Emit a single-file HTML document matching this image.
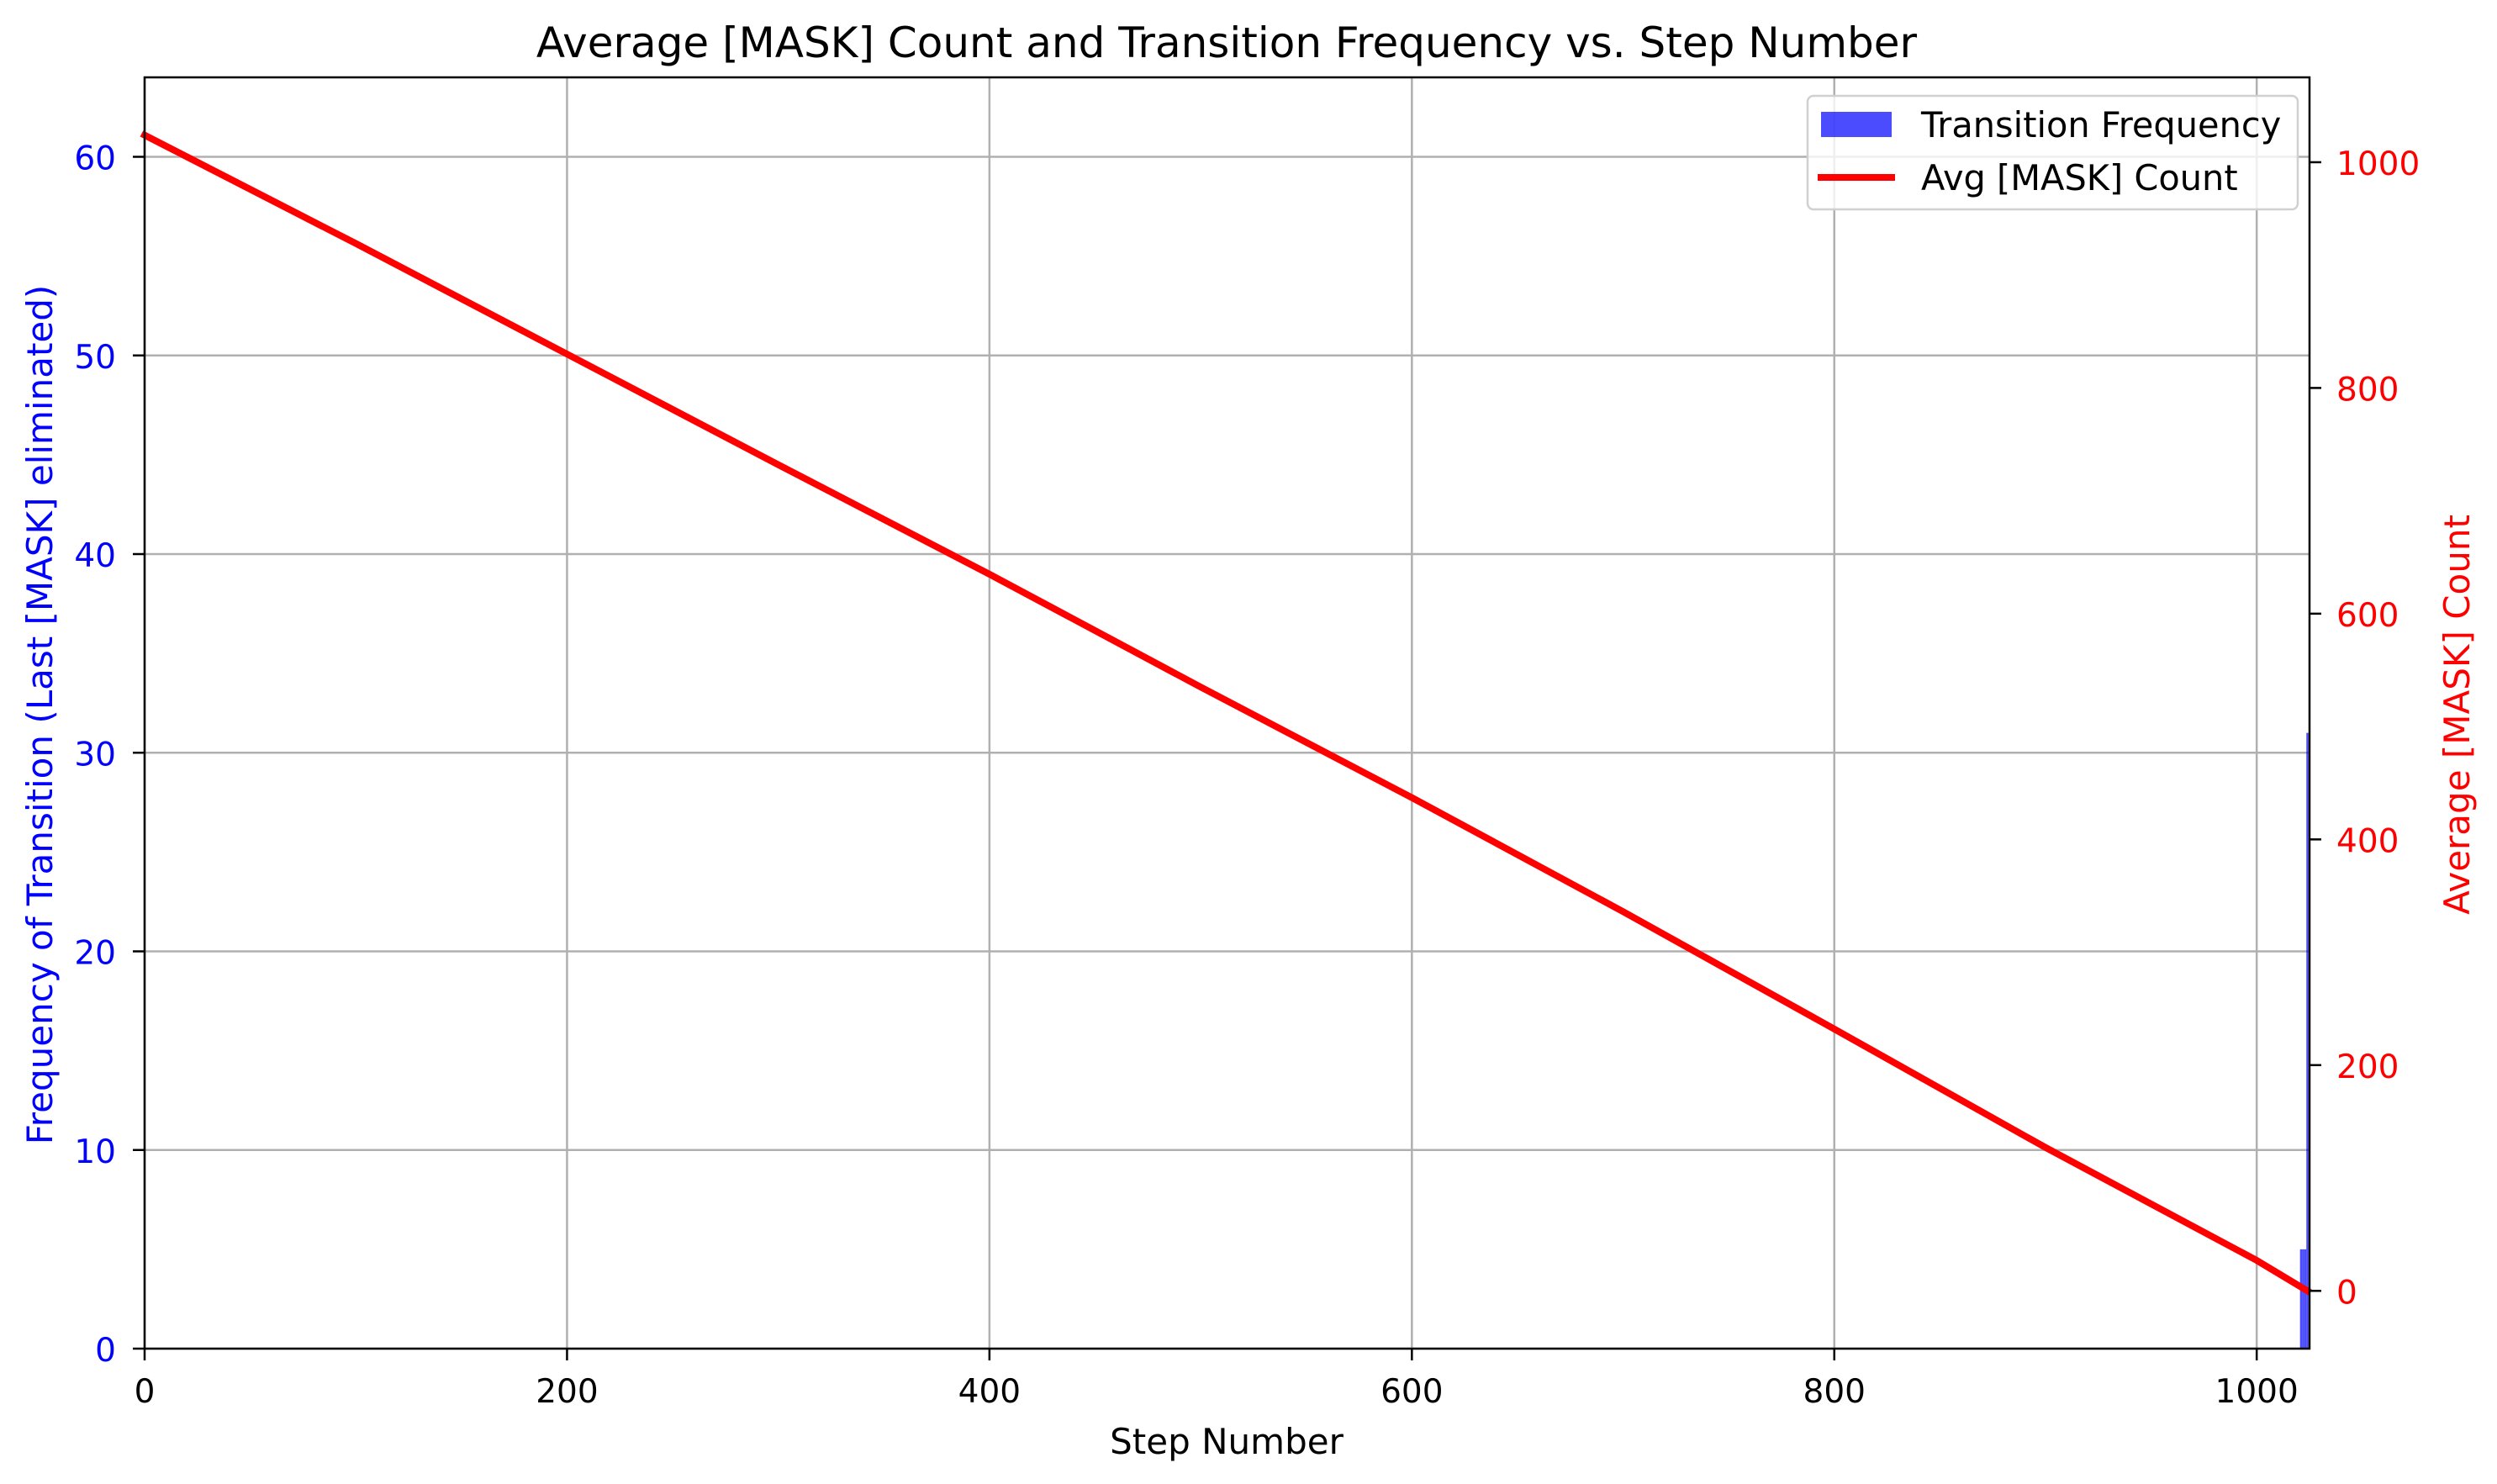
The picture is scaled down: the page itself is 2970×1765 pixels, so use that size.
<!DOCTYPE html>
<html><head><meta charset="utf-8"><style>
html,body{margin:0;padding:0;background:#fff;}
svg{display:block;font-family:"DejaVu Sans","Liberation Sans",sans-serif;}
</style></head><body>
<svg id="chart" width="2970" height="1765" viewBox="0 0 2970 1765">
<rect width="2970" height="1765" fill="#fff"/>
<g id="grid"></g>
<g id="bars"></g>
<g id="line"></g>
<g id="axes"></g>
<text x="1459" y="68" font-size="50" text-anchor="middle">Average [MASK] Count and Transition Frequency vs. Step Number</text>
<text x="1459" y="1729" font-size="42" text-anchor="middle">Step Number</text>
<text transform="translate(62,850) rotate(-90)" font-size="42" fill="#0000ff" text-anchor="middle">Frequency of Transition (Last [MASK] eliminated)</text>
<text transform="translate(2937,850) rotate(-90)" font-size="42" fill="#ff0000" text-anchor="middle">Average [MASK] Count</text>
<g>
<rect x="2150" y="114" width="583" height="135" rx="7" fill="#fff" fill-opacity="0.8" stroke="#d0d0d0" stroke-width="2.5"/>
<rect x="2166" y="133" width="84" height="30" fill="#0000ff" fill-opacity="0.7"/>
<text x="2285" y="163" font-size="41.5">Transition Frequency</text>
<line x1="2162" y1="211" x2="2254" y2="211" stroke="#ff0000" stroke-width="8"/>
<text x="2285" y="226" font-size="41.5">Avg [MASK] Count</text>
</g>
</svg>
<script>
const barSteps = [1021, 1022, 1023, 1024];
const barFreq = [5, 5, 5, 31];
const lineSteps = [0, 100, 200, 300, 400, 500, 600, 700, 800, 900, 1000, 1024];
const lineCounts = [1024, 928, 830, 732, 635, 535, 437, 336, 232, 127, 27, 0];
const xTicks = [0, 200, 400, 600, 800, 1000];
const yLeftTicks = [0, 10, 20, 30, 40, 50, 60];
const yRightTicks = [0, 200, 400, 600, 800, 1000];

const L=172,R=2747,T=92,B=1604;
const xMin=0,xMax=1025,yLMin=0,yLMax=64,yRMin=-51.2,yRMax=1075.2;
const sx=v=>L+(v-xMin)/(xMax-xMin)*(R-L);
const syL=v=>B-(v-yLMin)/(yLMax-yLMin)*(B-T);
const syR=v=>B-(v-yRMin)/(yRMax-yRMin)*(B-T);
const NS='http://www.w3.org/2000/svg';
function mk(tag,attrs,parent,txt){const e=document.createElementNS(NS,tag);for(const k in attrs)e.setAttribute(k,attrs[k]);if(txt!==undefined)e.textContent=txt;parent.appendChild(e);return e;}
const grid=document.getElementById('grid'),bars=document.getElementById('bars'),line=document.getElementById('line'),axes=document.getElementById('axes');

xTicks.forEach(v=>{
  const g=mk('line',{x1:sx(v),x2:sx(v),y1:T,y2:B,stroke:'#b0b0b0','stroke-width':2.5},grid);
  
  
  const t=mk('line',{x1:sx(v),x2:sx(v),y1:B,y2:B+14,stroke:'#000','stroke-width':2.5},axes);
  
  
  const l=mk('text',{x:sx(v),y:B+64,'font-size':39,'text-anchor':'middle'},axes,String(v));
  
  
});
yLeftTicks.forEach(v=>{
  const g=mk('line',{x1:L,x2:R,y1:syL(v),y2:syL(v),stroke:'#b0b0b0','stroke-width':2.5},grid);
  
  
  const t=mk('line',{x1:L-14,x2:L,y1:syL(v),y2:syL(v),stroke:'#000','stroke-width':2.5},axes);
  
  
  const l=mk('text',{x:L-34,y:syL(v)+15,'font-size':39,'text-anchor':'end',fill:'#0000ff'},axes,String(v));
  
  
});
yRightTicks.forEach(v=>{
  const t=mk('line',{x1:R,x2:R+14,y1:syR(v),y2:syR(v),stroke:'#000','stroke-width':2.5},axes);
  
  
  const l=mk('text',{x:R+32,y:syR(v)+15,'font-size':39,fill:'#ff0000'},axes,String(v));
  
  
});
barSteps.forEach((s,i)=>{
  const x0=sx(s-0.5),x1=sx(s+0.5);
  const b=mk('rect',{x:x0,y:syL(barFreq[i]),width:x1-x0,height:B-syL(barFreq[i]),fill:'#0000ff','fill-opacity':0.7},bars);
  
  
});
const pts=lineSteps.map((s,i)=>sx(s)+','+syR(lineCounts[i])).join(' ');
const pl=mk('polyline',{points:pts,fill:'none',stroke:'#ff0000','stroke-width':8,'stroke-linejoin':'round','stroke-linecap':'square'},line);


const fr=mk('rect',{x:L,y:T,width:R-L,height:B-T,fill:'none',stroke:'#000','stroke-width':2.5},axes);


</script>
</body></html>
